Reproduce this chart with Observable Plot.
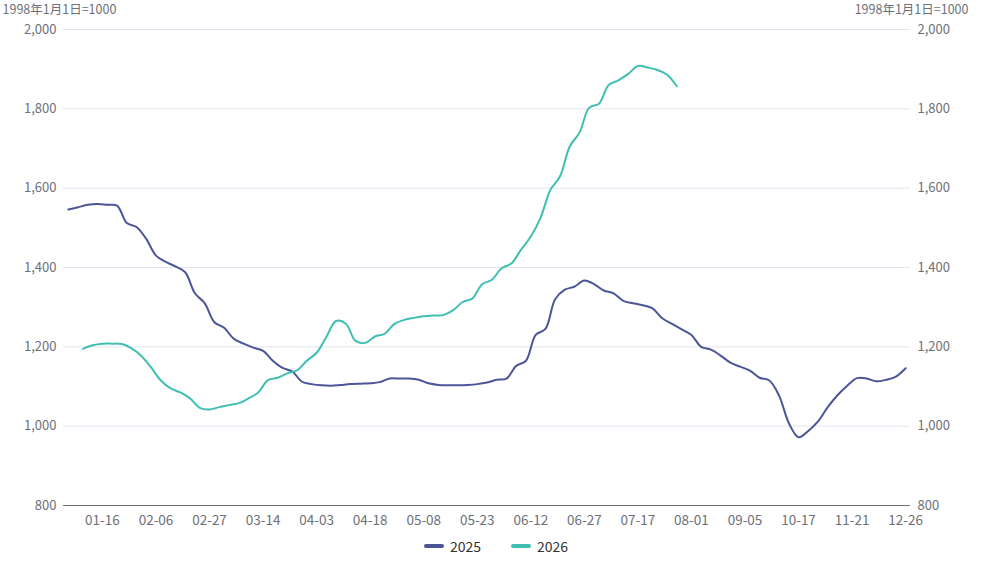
<!DOCTYPE html>
<html>
<head>
<meta charset="utf-8">
<script src="https://cdn.jsdelivr.net/npm/d3@7"></script>
<script src="https://cdn.jsdelivr.net/npm/@observablehq/plot@0.6"></script>
<style>
  html, body { margin: 0; padding: 0; background: #fff; }
  body { width: 982px; height: 561px; overflow: hidden; font-family: "Noto Sans CJK SC", "Noto Sans", sans-serif; }
  #legend { display: flex; justify-content: center; align-items: center; gap: 30px; height: 31px; font-size: 14px; color: #333; margin-left: 10px; }
  .item { display: flex; align-items: center; gap: 6px; }
  .sw { width: 20px; height: 4px; border-radius: 2px; display: inline-block; }
</style>
</head>
<body>
<div id="chart"></div>
<div id="legend"></div>
<script>
// x positions are trading-day indices along the shared month-day category axis
const tickIndex = [8, 19, 30, 41, 52, 63, 74, 85, 96, 107, 118, 129, 140, 151, 162, 173];
const tickLabels = ["01-16","02-06","02-27","03-14","04-03","04-18","05-08","05-23","06-12","06-27","07-17","08-01","09-05","10-17","11-21","12-26"];
const xMax = 174;

const seriesNames = ["2025", "2026"];
const seriesColors = ["#4b5597", "#3ebfb2"];

// 2025: every 2nd trading day starting at index 1
const start2025 = 1;
const values2025 = [
  1546,1552,1558,1560,1558,1556,1512,1502,1472,1430,
  1414,1403,1388,1335,1310,1262,1248,1220,1208,1198,
  1190,1165,1147,1138,1112,1106,1103,1102,1104,1106,
  1107,1108,1111,1120,1120,1120,1117,1108,1104,1103,
  1103,1104,1106,1110,1117,1120,1152,1165,1230,1245,
  1320,1344,1352,1367,1358,1342,1335,1316,1310,1305,
  1297,1272,1258,1244,1230,1200,1193,1178,1160,1150,
  1140,1122,1115,1077,1008,972,988,1012,1048,1078,
  1102,1121,1120,1113,1117,1125,1146
];

// 2026: every 2nd trading day starting at index 4
const start2026 = 4;
const values2026 = [
  1195,1204,1208,1208,1207,1196,1177,1148,1115,1095,
  1085,1070,1046,1042,1048,1053,1058,1070,1085,1116,
  1122,1133,1141,1165,1185,1225,1265,1258,1215,1210,
  1226,1233,1258,1268,1273,1277,1279,1280,1292,1313,
  1322,1358,1369,1398,1410,1445,1478,1525,1595,1630,
  1705,1740,1803,1813,1860,1872,1888,1908,1904,1898,
  1886,1857
];

const yTicks = [800, 1000, 1200, 1400, 1600, 1800, 2000];
const unitLabel = "1998年1月1日=1000";

const rows = [
  ...values2025.map((v, k) => ({series: seriesNames[0], i: start2025 + 2 * k, v})),
  ...values2026.map((v, k) => ({series: seriesNames[1], i: start2026 + 2 * k, v}))
];

const fmt = d3.format(",");
const axisColor = "#6E7079";

const chart = Plot.plot({
  width: 982,
  height: 530,
  marginTop: 29,
  marginBottom: 25,
  marginLeft: 63,
  marginRight: 72,
  style: {fontFamily: "'Noto Sans CJK SC', 'Noto Sans', sans-serif", fontSize: "12px", color: axisColor, background: "#fff"},
  x: {domain: [0, xMax], axis: null},
  y: {domain: [800, 2000], axis: null},
  color: {domain: seriesNames, range: seriesColors},
  marks: [
    Plot.ruleY(yTicks.filter(d => d > 800), {stroke: "#E0E6F1", strokeWidth: 1}),
    Plot.axisY({anchor: "left", ticks: yTicks, tickFormat: fmt, tickSize: 0, tickPadding: 7, fill: axisColor, fontSize: 13, label: null}),
    Plot.axisY({anchor: "right", ticks: yTicks, tickFormat: fmt, tickSize: 0, tickPadding: 7, fill: axisColor, fontSize: 13, label: null}),
    Plot.axisX({ticks: tickIndex, tickFormat: (d) => tickLabels[tickIndex.indexOf(d)], tickSize: 0, tickPadding: 10, fill: axisColor, fontSize: 13.5, label: null}),
    Plot.lineY(rows, {x: "i", y: "v", z: "series", stroke: "series", strokeWidth: 2, curve: "catmull-rom"}),
    Plot.ruleY([800], {stroke: axisColor, strokeWidth: 1.2}),
    Plot.text([unitLabel], {frameAnchor: "top-left", dx: -61, dy: -24, textAnchor: "start", fill: axisColor, fontSize: 12.5}),
    Plot.text([unitLabel], {frameAnchor: "top-right", dx: 58, dy: -24, textAnchor: "end", fill: axisColor, fontSize: 12.5})
  ]
});
document.getElementById("chart").appendChild(chart);

const legend = document.getElementById("legend");
seriesNames.forEach((name, k) => {
  const item = document.createElement("div");
  item.className = "item";
  const sw = document.createElement("span");
  sw.className = "sw";
  sw.style.background = seriesColors[k];
  const t = document.createElement("span");
  t.textContent = name;
  item.appendChild(sw);
  item.appendChild(t);
  legend.appendChild(item);
});
</script>
</body>
</html>
